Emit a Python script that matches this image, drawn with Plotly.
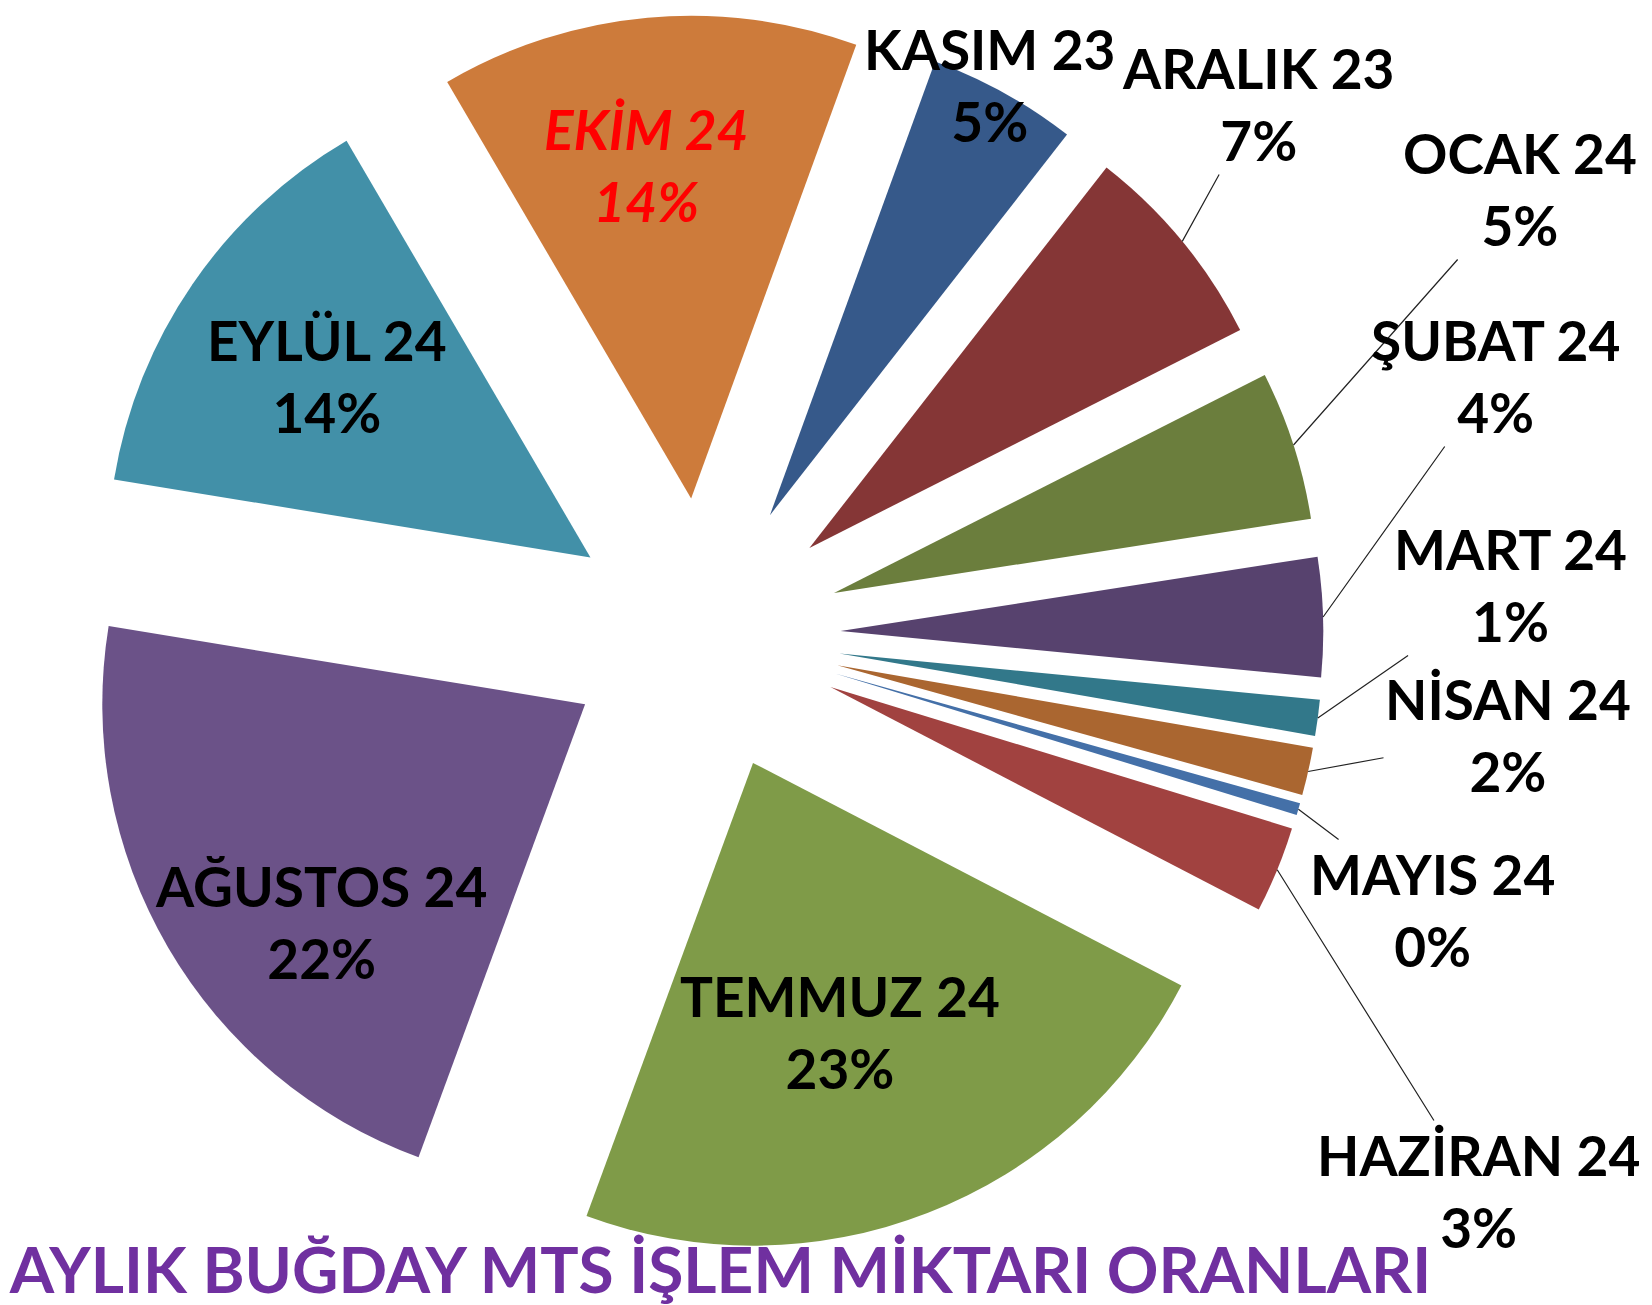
import math

import plotly.graph_objects as go

months = [
    "KASIM 23", "ARALIK 23", "OCAK 24", "ŞUBAT 24", "MART 24", "NİSAN 24",
    "MAYIS 24", "HAZİRAN 24", "TEMMUZ 24", "AĞUSTOS 24", "EYLÜL 24", "EKİM 24",
]
shares = [5.0, 7.0, 5.0, 4.0, 1.2, 1.6, 0.4, 2.9, 23.0, 22.0, 14.0, 14.0]
colors = [
    "#36598A", "#853636", "#6B7E3D", "#57426E", "#32788A", "#AA6630",
    "#4470A8", "#A14240", "#7F9B48", "#6B5288", "#4290A8", "#CD7B3B",
]

# page / pie geometry
W, H = 1652, 1305
DOM_X = [0.021, 0.821]
DOM_Y = [0.0445, 0.9945]
PULL = 0.284
ROTATION = 20
FONT = "Lato"
SIZE = 55

# pixel centre of each two-line label block
label_pos = {
    "KASIM 23": (982, 77),
    "ARALIK 23": (1250, 96),
    "OCAK 24": (1512, 181),
    "ŞUBAT 24": (1487, 368),
    "MART 24": (1502, 577),
    "NİSAN 24": (1500, 727),
    "MAYIS 24": (1424, 902),
    "HAZİRAN 24": (1470, 1183),
    "TEMMUZ 24": (832, 1024),
    "AĞUSTOS 24": (313, 914),
    "EYLÜL 24": (319, 368),
    "EKİM 24": (638, 157),
}
# labels that sit on/inside their slice get no leader line
no_leader = {"KASIM 23", "TEMMUZ 24", "AĞUSTOS 24", "EYLÜL 24", "EKİM 24"}

fig = go.Figure(
    go.Pie(
        labels=months,
        values=shares,
        sort=False,
        direction="clockwise",
        rotation=ROTATION,
        pull=[PULL] * len(months),
        marker={"colors": colors, "line": {"width": 0}},
        textinfo="none",
        domain={"x": DOM_X, "y": DOM_Y},
        automargin=False,
        showlegend=False,
        hoverinfo="label+percent",
    )
)

# outer-arc midpoint of each pulled slice, same maths plotly uses for the pie
cx = W * (DOM_X[0] + DOM_X[1]) / 2
cy = H * (1 - (DOM_Y[0] + DOM_Y[1]) / 2)
r = min(W * (DOM_X[1] - DOM_X[0]), H * (DOM_Y[1] - DOM_Y[0])) / 2 / (1 + PULL)
total = sum(shares)
angle = ROTATION
for m, v in zip(months, shares):
    mid = math.radians(angle + 180 * v / total)
    angle += 360 * v / total
    lx, ly = label_pos[m]
    pct = f"{round(100 * v / total)}%"
    if m == "EKİM 24":
        text = f"<b><i>{m}</i></b><br><b><i>{pct}</i></b>"
        color = "red"
    else:
        text = f"<b>{m}</b><br><b>{pct}</b>"
        color = "black"
    font = {"family": FONT, "size": SIZE, "color": color}
    if m in no_leader:
        fig.add_annotation(
            x=lx / W, y=1 - ly / H, xref="paper", yref="paper",
            xanchor="center", yanchor="middle",
            text=text, showarrow=False, font=font,
        )
    else:
        px = cx + r * (1 + PULL) * math.sin(mid)
        py = cy - r * (1 + PULL) * math.cos(mid)
        fig.add_annotation(
            x=px / W, y=1 - py / H, xref="paper", yref="paper",
            ax=lx - px, ay=ly - py,
            text=text, showarrow=True,
            arrowhead=0, arrowwidth=1.2, arrowcolor="#222222", standoff=0,
            font=font,
        )

fig.update_layout(
    width=W,
    height=H,
    margin={"l": 0, "r": 0, "t": 0, "b": 0, "autoexpand": False},
    paper_bgcolor="white",
    title={
        "text": "<b>AYLIK BUĞDAY MTS İŞLEM MİKTARI ORANLARI</b>",
        "font": {"family": FONT, "size": 64, "color": "#7030A0"},
        "x": 0.001,
        "xanchor": "left",
        "y": 0.015,
        "yanchor": "bottom",
        "automargin": False,
    },
)

fig.write_html("out.html")
